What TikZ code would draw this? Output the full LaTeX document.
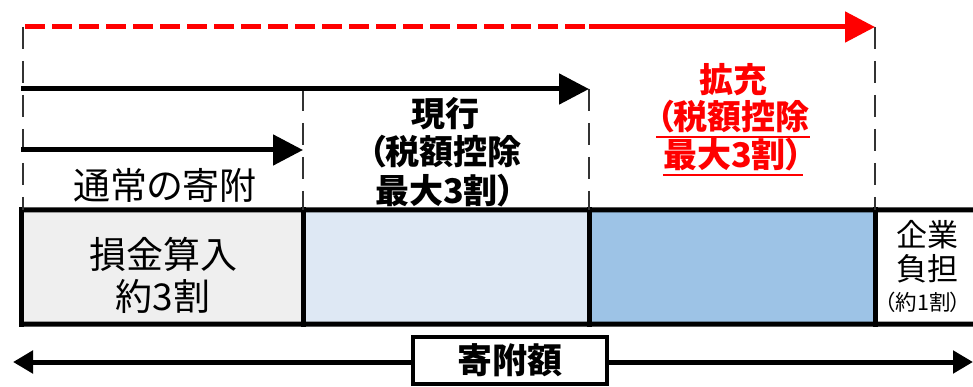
\documentclass[tikz,border=0pt]{standalone}
\usepackage{fontspec}
\setmainfont[RawFeature=+palt]{Noto Sans CJK JP}
\usetikzlibrary{arrows.meta}
\definecolor{cellgray}{HTML}{EFEFEF}
\definecolor{celllight}{HTML}{DEE8F4}
\definecolor{cellmid}{HTML}{9DC3E6}
\definecolor{guidegray}{HTML}{333333}
\tikzset{
  guide/.style={line width=2.5pt, dash pattern=on 22pt off 12pt, draw=guidegray},
  bigarrow/.style={line width=5pt, -{Triangle[length=30pt,width=30pt]}},
  reddash/.style={line width=5pt, draw=red, dash pattern=on 20pt off 7pt},
  redarrow/.style={line width=5pt, draw=red, -{Triangle[length=30pt,width=30pt]}, fill=red},
  border/.style={line width=5pt, line cap=rect},
  cellbox/.style={inner sep=0pt, minimum height=114pt, draw=none},
  halfarrow/.style={line width=5pt, -{Triangle[length=20pt,width=22pt]}},
  regtext/.style={align=center, inner sep=0pt, font=\fontsize{37}{42}\selectfont},
  boldtext/.style={align=center, inner sep=0pt, font=\bfseries\fontsize{34}{38.5}\selectfont},
  redtext/.style={inner sep=0pt, text=red, font=\bfseries\fontsize{34}{38}\selectfont},
}
\begin{document}
\begin{tikzpicture}[x=1pt,y=-1pt]
\useasboundingbox (0,0) rectangle (973,387);

% cells
\node[cellbox, fill=cellgray, minimum width=281pt] (c1) at (162.5,267) {};
\node[cellbox, fill=celllight, minimum width=286pt] (c2) at (446,267) {};
\node[cellbox, fill=cellmid, minimum width=286pt] (c3) at (732,267) {};
\node[cellbox, fill=white, minimum width=110pt] (c4) at (930,267) {};

% borders
\draw[border] (c1.north west) -- (980,210);
\draw[border] (c1.south west) -- (980,324);
\draw[border] (c1.north west) -- (c1.south west);
\draw[border] (c1.north east) -- (c1.south east);
\draw[border] (c2.north east) -- (c2.south east);
\draw[border] (c3.north east) -- (c3.south east);

% guide coordinates
\coordinate (g0t) at (23,27);
\coordinate (g1t) at (303,89);
\coordinate (g2t) at (589,89);
\coordinate (g3t) at (875,27);
\coordinate (g0b) at (23,210);
\coordinate (g1b) at (303,210);
\coordinate (g2b) at (589,210);
\coordinate (g3b) at (875,210);
\draw[guide] (g0t) -- (g0b);
\draw[guide] (g1t) -- (g1b);
\draw[guide] (g2t) -- (g2b);
\draw[guide] (g3t) -- (g3b);

% arrows
\coordinate (rs) at (25,27);
\coordinate (rm) at (589,27);
\coordinate (a1s) at (21,89);
\coordinate (a2s) at (21,150);
\coordinate (a2e) at (303,150);
\draw[reddash] (rs) -- (rm);
\draw[redarrow] (rm) -- (g3t);
\draw[bigarrow] (a1s) -- (g2t);
\draw[bigarrow] (a2s) -- (a2e);

% texts
\node[regtext] (normal) at (165,185) {通常の寄附};
\node[regtext] (loss) at (163,275) {損金算入\\約3割};
\node[boldtext] (current) at (445,152) {現行\\（税額控除\\最大3割）};
\node[redtext] (ex1) at (733,80) {拡充};
\node[redtext] (ex2) at (733,117) {（税額控除};
\node[redtext] (ex3) at (733,155) {最大3割）};
\draw[red, line width=2pt] ([yshift=-3pt]ex2.south west) -- ([yshift=-3pt]ex2.south east);
\draw[red, line width=2pt] ([yshift=-3pt]ex3.south west) -- ([yshift=-3pt]ex3.south east);
\node[regtext, font=\fontsize{31}{34}\selectfont] (corp) at (927,252) {企業\\負担};
\node[regtext, font=\fontsize{21.5}{25}\selectfont] (corp2) at (923,302) {（約1割）};

% bottom amount
\node[draw, line width=4.5pt, fill=white, minimum width=194pt, minimum height=47pt, inner sep=0pt,
      font=\bfseries\fontsize{35}{38}\selectfont] (amt) at (510,360.5) {寄附額};
\coordinate (bl) at (13,362);
\coordinate (br) at (973,362);
\draw[halfarrow] (amt.west |- bl) -- (bl);
\draw[halfarrow] (amt.east |- br) -- (br);
\end{tikzpicture}
\end{document}
